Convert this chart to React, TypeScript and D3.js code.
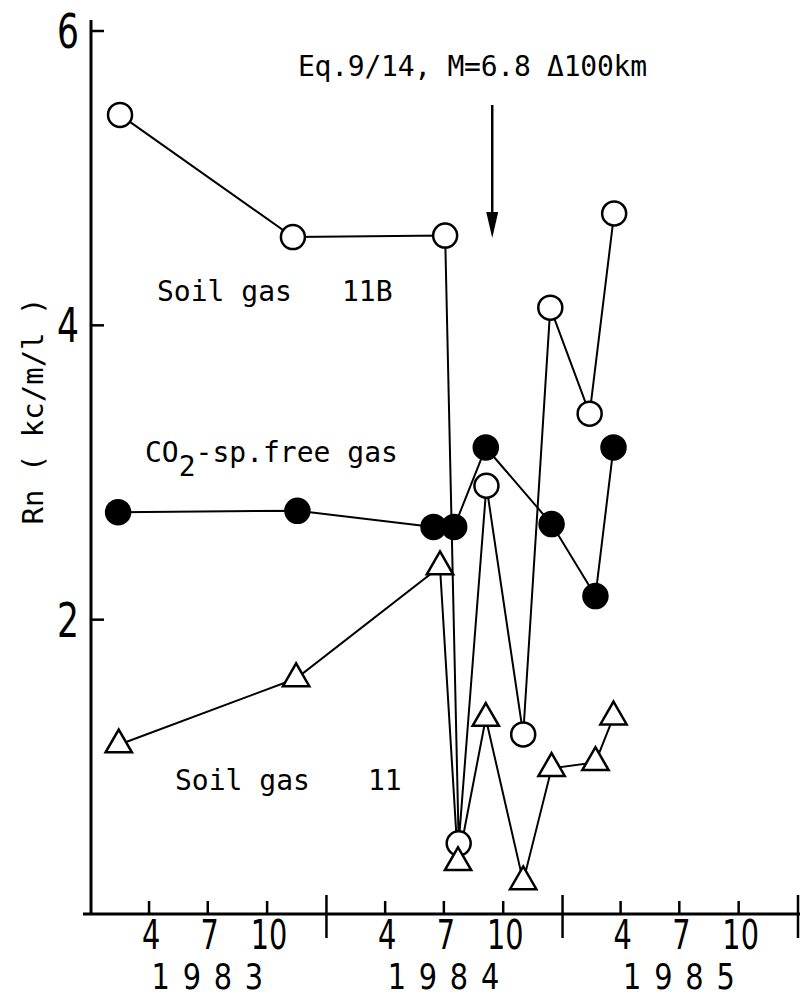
import { useEffect, useRef } from "react";
import * as d3 from "d3";

// Soil gas 11B (open circles)
const soil11BDates = ["1983-02-15", "1983-11-10", "1984-07-03", "1984-07-24", "1984-09-05", "1984-11-01", "1984-12-13", "1985-02-12", "1985-03-22"];
const soil11BValues = [5.43, 4.6, 4.61, 0.48, 2.91, 1.22, 4.12, 3.4, 4.76];

// CO2-sp. free gas (filled circles)
const co2Dates = ["1983-02-12", "1983-11-17", "1984-06-15", "1984-07-17", "1984-09-04", "1984-12-15", "1985-02-21", "1985-03-21"];
const co2Values = [2.73, 2.74, 2.63, 2.63, 3.17, 2.65, 2.16, 3.17];

// Soil gas 11 (triangles)
const soil11Dates = ["1983-02-13", "1983-11-15", "1984-06-25", "1984-07-23", "1984-09-04", "1984-11-01", "1984-12-15", "1985-02-21", "1985-03-21"];
const soil11Values = [1.15, 1.6, 2.36, 0.35, 1.33, 0.22, 0.99, 1.03, 1.34];

const yTicks = [2, 4, 6];
const monthTicks = [4, 7, 10];
const years = [1983, 1984, 1985];
const quakeDate = "1984-09-14";

const mono = "'DejaVu Sans Mono', monospace";
const sans = "'DejaVu Sans', sans-serif";

export default function App() {
  const ref = useRef<SVGSVGElement>(null);

  useEffect(() => {
    const svg = d3.select(ref.current);
    svg.selectAll("*").remove();

    const parse = d3.timeParse("%Y-%m-%d");
    const x = d3.scaleTime()
      .domain([new Date(1983, 0, 1), new Date(1986, 0, 1)])
      .range([91, 798]);
    const y = d3.scaleLinear().domain([0, 6]).range([914, 31]);

    const g = svg.append("g");

    // axes
    g.append("line").attr("x1", 91).attr("x2", 91).attr("y1", 20).attr("y2", y(0))
      .attr("stroke", "#000").attr("stroke-width", 3);
    g.append("line").attr("x1", 83).attr("x2", 800).attr("y1", y(0)).attr("y2", y(0))
      .attr("stroke", "#000").attr("stroke-width", 3);

    // narrow-looking labels: squeeze horizontally
    yTicks.forEach(t => {
      g.append("line").attr("x1", 91).attr("x2", 104).attr("y1", y(t)).attr("y2", y(t))
        .attr("stroke", "#000").attr("stroke-width", 2.5);
      g.append("text").text(t)
        .attr("transform", `translate(79,${y(t) + 17}) scale(0.72,1)`)
        .attr("text-anchor", "end").attr("font-size", 48).attr("font-family", sans);
    });

    years.forEach(yr => {
      const bx = x(new Date(yr + 1, 0, 1));
      g.append("line").attr("x1", bx).attr("x2", bx)
        .attr("y1", 895).attr("y2", 938).attr("stroke", "#000").attr("stroke-width", 2.5);
      monthTicks.forEach(m => {
        const px = x(new Date(yr, m - 1, 1));
        g.append("line").attr("x1", px).attr("x2", px).attr("y1", 901).attr("y2", y(0))
          .attr("stroke", "#000").attr("stroke-width", 2.5);
        g.append("text").text(m)
          .attr("transform", `translate(${px + 2},949) scale(0.72,1)`)
          .attr("text-anchor", "middle").attr("font-size", 40).attr("font-family", sans);
      });
      g.append("text").text(yr)
        .attr("transform", `translate(${x(new Date(yr, 6, 1)) + 6},989) scale(0.8,1)`)
        .attr("text-anchor", "middle").attr("font-size", 36).attr("letter-spacing", 16)
        .attr("font-family", sans);
    });

    // y label
    g.append("text").text("Rn ( kc/m/l )")
      .attr("transform", "translate(43,411) rotate(-90)")
      .attr("text-anchor", "middle").attr("font-size", 29).attr("font-family", mono)
      .style("white-space", "pre");

    // series
    const series = [
      { dates: soil11BDates, values: soil11BValues, kind: "open" },
      { dates: co2Dates, values: co2Values, kind: "filled" },
      { dates: soil11Dates, values: soil11Values, kind: "tri" },
    ];
    const line = d3.line<[Date, number]>().x(d => x(d[0])).y(d => y(d[1]));

    series.forEach(s => {
      const pts: [Date, number][] = s.dates.map((d, i) => [parse(d) as Date, s.values[i]]);
      g.append("path").attr("d", line(pts)).attr("fill", "none")
        .attr("stroke", "#000").attr("stroke-width", 2);
    });
    series.forEach(s => {
      const pts: [Date, number][] = s.dates.map((d, i) => [parse(d) as Date, s.values[i]]);
      pts.forEach(p => {
        if (s.kind === "tri") {
          g.append("path").attr("d", d3.symbol().type(d3.symbolTriangle).size(300)())
            .attr("transform", `translate(${x(p[0])},${y(p[1])})`)
            .attr("fill", "#fff").attr("stroke", "#000").attr("stroke-width", 2.5);
        } else {
          g.append("circle").attr("cx", x(p[0])).attr("cy", y(p[1])).attr("r", 12)
            .attr("fill", s.kind === "open" ? "#fff" : "#000")
            .attr("stroke", "#000").attr("stroke-width", 2.5);
        }
      });
    });

    // series labels
    const l1 = g.append("text").attr("y", 301).attr("font-size", 28).attr("font-family", mono);
    l1.append("tspan").attr("x", 157).text("Soil gas");
    l1.append("tspan").attr("x", 342).text("11B");
    const co2 = g.append("text").attr("x", 145).attr("y", 462)
      .attr("font-size", 28).attr("font-family", mono);
    co2.append("tspan").text("CO");
    co2.append("tspan").text("2").attr("dy", 14);
    co2.append("tspan").text("-sp.free gas").attr("dy", -14);
    const l3 = g.append("text").attr("y", 790).attr("font-size", 28).attr("font-family", mono);
    l3.append("tspan").attr("x", 175).text("Soil gas");
    l3.append("tspan").attr("x", 368).text("11");

    // earthquake annotation
    g.append("text").text("Eq.9/14, M=6.8 Δ100km").attr("x", 298).attr("y", 76)
      .attr("font-size", 28).attr("font-family", mono)
      .attr("textLength", 349).attr("lengthAdjust", "spacing");
    const qx = x(parse(quakeDate) as Date);
    g.append("line").attr("x1", qx).attr("x2", qx).attr("y1", 105).attr("y2", 218)
      .attr("stroke", "#000").attr("stroke-width", 2.5);
    g.append("path").attr("d", `M${qx - 6},212 L${qx + 6},212 L${qx},238 Z`).attr("fill", "#000");
  }, []);

  return (
    <div>
      <svg ref={ref} width={800} height={997} style={{ position: "absolute", left: 0, top: 0, background: "#fff" }}></svg>
    </div>
  );
}
